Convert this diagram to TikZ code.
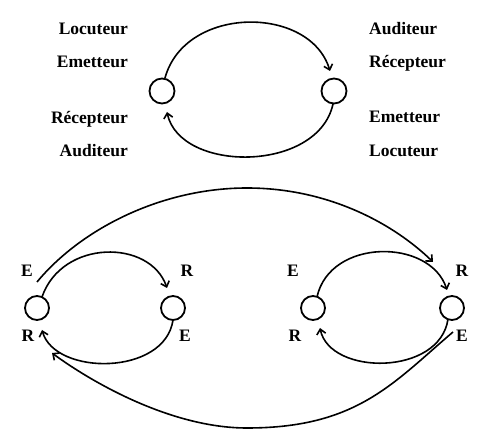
\documentclass[tikz,border=0pt]{standalone}
\usepackage{fontspec}
\setmainfont{Liberation Serif}
\usetikzlibrary{arrows.meta}
\begin{document}
\begin{tikzpicture}[x=1pt,y=-1pt,
 station/.style={circle,draw,line width=1.8pt,minimum size=25pt,inner sep=0pt},
 flow/.style={line width=1.6pt,-{Straight Barb[length=5pt,width=9pt]}},
 word/.style={font=\fontsize{17.5}{20}\selectfont\bfseries,inner sep=0pt},
 letter/.style={font=\fontsize{17.5}{20}\selectfont\bfseries,inner sep=0pt,anchor=base}]
\useasboundingbox[fill=white] (0,0) rectangle (493,430);

% top diagram
\node[station] (L) at (162,91) {};
\node[station] (R) at (334,91) {};
\draw[flow] ([shift={(3,-13)}]L.center) .. controls (185,5) and (310,5) .. ([shift={(-4,-20)}]R.center);
\draw[flow] ([shift={(-1,13)}]R.center) .. controls (318,173) and (180,173) .. ([shift={(5,21)}]L.center);

\node[word,anchor=base east] (l1) at (128,35) {Locuteur};
\node[word,anchor=base east] (l2) at (128,68) {Emetteur};
\node[word,anchor=base east] (l3) at (128,124) {Récepteur};
\node[word,anchor=base east] (l4) at (128,157) {Auditeur};
\node[word,anchor=base west] (r1) at (369,35) {Auditeur};
\node[word,anchor=base west] (r2) at (369,68) {Récepteur};
\node[word,anchor=base west] (r3) at (369,123) {Emetteur};
\node[word,anchor=base west] (r4) at (369,157) {Locuteur};

% bottom diagram
\node[station,minimum size=24pt] (A) at (37,308) {};
\node[station,minimum size=24pt] (B) at (173,308) {};
\node[station,minimum size=24pt] (C) at (313,308) {};
\node[station,minimum size=24pt] (D) at (452,308) {};

\draw[flow] ([shift={(5,-11)}]A.center) .. controls (62,239) and (150,239) .. ([shift={(-6,-20)}]B.center);
\draw[flow] ([shift={(0,12)}]B.center) .. controls (165,376) and (55,376) .. ([shift={(5,22)}]A.center);
\draw[flow] ([shift={(4,-11)}]C.center) .. controls (330,238) and (430,238) .. ([shift={(-5,-18)}]D.center);
\draw[flow] ([shift={(-4,11)}]D.center) .. controls (440,376) and (330,376) .. ([shift={(7,20)}]C.center);
\draw[flow] ([shift={(0,-26)}]A.center) .. controls (80,230) and (160,188) .. (247,188)
  .. controls (330,188) and (395,225) .. ([shift={(-19,-46)}]D.center);
\draw[flow] ([shift={(1,24)}]D.center) .. controls (393,383) and (357,428) .. (247,428)
  .. controls (170,428) and (90,381) .. ([shift={(15,45)}]A.center);

\node[letter] (ae) at (27,277) {E};
\node[letter] (ar) at (28,342) {R};
\node[letter] (br) at (187,277) {R};
\node[letter] (be) at (185,342) {E};
\node[letter] (ce) at (293,277) {E};
\node[letter] (cr) at (295,342) {R};
\node[letter] (dr) at (462,277) {R};
\node[letter] (de) at (462,342) {E};
\end{tikzpicture}
\end{document}
